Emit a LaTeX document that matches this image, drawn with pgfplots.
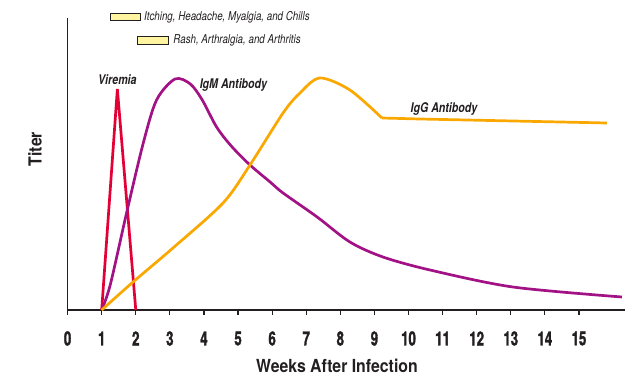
\documentclass[border=0pt]{standalone}
\usepackage{pgfplots}
\pgfplotsset{compat=1.18}
\usepackage{fontspec}
\setmainfont{TeX Gyre Heros}
\newfontfamily\cond[FakeStretch=0.8]{TeX Gyre Heros}
\newfontfamily\condb[FakeStretch=0.88]{TeX Gyre Heros}
\newfontfamily\condt[FakeStretch=0.68,FakeBold=1.5]{TeX Gyre Heros}
\newcommand\tl[1]{{\condt\bfseries\fontsize{19.5}{19.5}\selectfont #1}}
\definecolor{cred}{RGB}{226,0,52}
\definecolor{cpurple}{RGB}{162,18,132}
\definecolor{corange}{RGB}{250,168,0}
\definecolor{cyellow}{RGB}{255,244,160}
\definecolor{cdark}{RGB}{35,31,32}
\begin{document}
\begin{tikzpicture}
\useasboundingbox (-67.6pt,-69pt) rectangle (557.4pt,310pt);
\begin{axis}[
  scale only axis, width=557.4pt, height=292pt,
  at={(0pt,0pt)}, anchor=south west,
  xmin=0, xmax=16.35, ymin=0, ymax=292,
  axis lines*=left, clip=false,
  axis line style={line width=1.3pt, cdark},
  ytick=\empty, xtick={0,1,2,3,4,5,6,7,8,9,10,11,12,13,14,15},
  xticklabels={\tl{0},\tl{1},\tl{2},\tl{3},\tl{4},\tl{5},\tl{6},\tl{7},\tl{8},\tl{9},\tl{10},\tl{11},\tl{12},\tl{13},\tl{14},\tl{15}},
  xtick pos=bottom, tick align=outside,
  major tick length=5pt,
  every tick/.style={line width=1.2pt, cdark},
  xticklabel style={text=cdark, anchor=center, yshift=-23.5pt},
  xlabel={Weeks After Infection},
  ylabel={Titer},
  every axis x label/.style={at={(rel axis cs:0.4833,0)}, yshift=-56pt, anchor=center, font=\condb\bfseries\fontsize{18}{18}\selectfont, text=cdark},
  every axis y label/.style={at={(rel axis cs:0,0.551)}, xshift=-32.6pt, anchor=center, rotate=90, font=\condb\bfseries\fontsize{18}{18}\selectfont, text=cdark},
]
% Viremia
\addplot[cred, line width=2.7pt, line join=miter] coordinates {(1,0) (1.46,221) (2.0,0)};
% IgM antibody
\addplot[cpurple, line width=2.7pt, smooth, tension=0.5] coordinates {
(1.0,0) (1.25,25) (1.73,97) (2.22,167) (2.61,210) (3.15,231) (3.6,226) (3.95,210) (4.37,183) (4.8,164) (5.35,145) (5.94,128) (6.32,117) (7.32,93) (8.28,68) (9.25,53) (10.63,40) (13.06,23) (16.26,13)};
% IgG antibody
\addplot[corange, line width=2.7pt, smooth, tension=0.5] coordinates {
(1.0,0) (1.92,28) (3.09,62) (4.56,107) (5.35,145) (6.32,197) (6.815,217) (7.40,232) (8.28,220) (9.22,192)};
\addplot[corange, line width=2.7pt] coordinates {(9.22,192) (10.33,191) (15.82,187)};
% annotations
\node[font=\cond\bfseries\itshape\fontsize{13.3}{13.3}\selectfont, text=cdark] at (axis cs:1.46,230) {Viremia};
\node[font=\cond\bfseries\itshape\fontsize{13.3}{13.3}\selectfont, text=cdark] at (axis cs:4.865,225.3) {IgM Antibody};
\node[font=\cond\bfseries\itshape\fontsize{13.3}{13.3}\selectfont, text=cdark] at (axis cs:11.04,201) {IgG Antibody};
\draw[fill=cyellow, draw=cdark, line width=0.9pt] (axis cs:1.264,289.3) rectangle (axis cs:2.123,296.7);
\node[anchor=west, inner sep=0pt, font=\cond\itshape\fontsize{12.2}{12.2}\selectfont, text=cdark] at (axis cs:2.24,293) {Itching, Headache, Myalgia, and Chills};
\draw[fill=cyellow, draw=cdark, line width=0.9pt] (axis cs:2.056,265.7) rectangle (axis cs:2.953,273.3);
\node[anchor=west, inner sep=0pt, font=\cond\itshape\fontsize{12.2}{12.2}\selectfont, text=cdark] at (axis cs:3.10,269.5) {Rash, Arthralgia, and Arthritis};
\end{axis}
\end{tikzpicture}
\end{document}
